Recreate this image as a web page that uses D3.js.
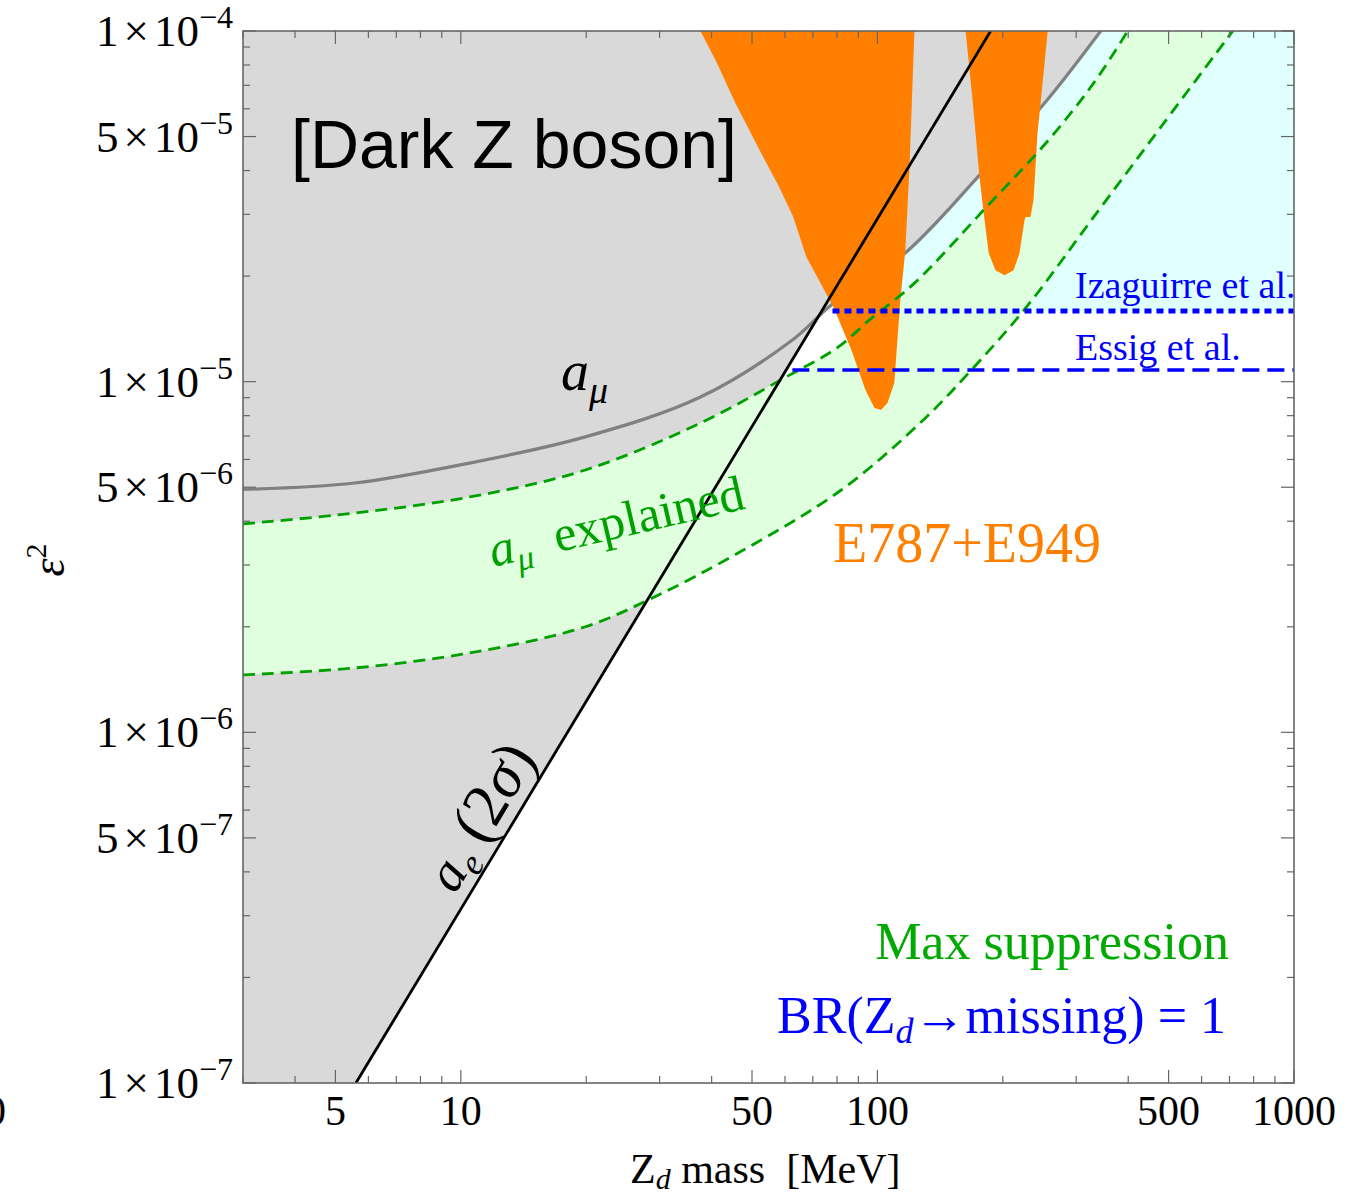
<!DOCTYPE html>
<html>
<head>
<meta charset="utf-8">
<script src="https://cdn.jsdelivr.net/npm/d3@7"></script>
<style>
  body { margin: 0; background: #fff; }
  svg { display: block; }
  text { font-family: "Liberation Serif", "Times New Roman", serif; }
</style>
</head>
<body>
<div id="chart"></div>
<script>
// values: mass in MeV, eps^2
const amuCurve = [[3, 4.93e-6], [5.56, 5.14e-6], [10.5, 5.86e-6], [19.9, 6.96e-6], [37.6, 9.04e-6],
  [62.5, 1.315e-5], [77.5, 1.655e-5], [116.7, 2.33e-5], [177.9, 3.94e-5], [252, 6.23e-5], [343.6, 1.0e-4]];
const bandUpper = [[3, 3.93e-6], [5.56, 4.22e-6], [10.5, 4.69e-6], [19.9, 5.6e-6], [37.6, 7.62e-6],
  [59.8, 1.025e-5], [80.6, 1.256e-5], [95.7, 1.5e-5], [122.7, 1.91e-5], [182.8, 3.15e-5],
  [257.6, 4.89e-5], [330.6, 7.11e-5], [399, 1.0e-4]];
const bandLower = [[3, 1.458e-6], [5.56, 1.526e-6], [10.5, 1.684e-6], [19.9, 2.0e-6], [29.1, 2.43e-6],
  [46.4, 3.25e-6], [81.9, 4.91e-6], [128.9, 7.78e-6], [169, 1.087e-5], [228, 1.633e-5],
  [330.6, 2.95e-5], [479, 5.32e-5], [713, 1.0e-4]];
const aeLine = [[5.6, 1.0e-7], [187, 1.0e-4]];
const e787Peak1 = [[37.6, 1.3e-4], [37.6, 1.0e-4], [41, 8.2e-5], [45.6, 6.23e-5], [52, 4.6e-5], [58.1, 3.59e-5],
  [62.8, 2.95e-5], [67.5, 2.27e-5], [78.4, 1.633e-5], [86.6, 1.231e-5], [93.6, 9.47e-6], [98.4, 8.41e-6],
  [102, 8.3e-6], [105.7, 8.69e-6], [109.8, 9.91e-6], [113.5, 1.71e-5], [116.7, 2.37e-5], [119.4, 4.09e-5],
  [122.7, 1.0e-4], [122.7, 1.3e-4]];
const e787Peak2 = [[162.8, 1.3e-4], [162.8, 1.0e-4], [169.2, 6.36e-5], [175.8, 3.83e-5], [179.9, 3.03e-5],
  [184.9, 2.33e-5], [192, 2.08e-5], [201.9, 2.01e-5], [212.3, 2.08e-5], [219.4, 2.33e-5], [225.5, 2.89e-5],
  [227, 2.95e-5], [233, 2.95e-5], [237, 3.3e-5], [242.3, 5.12e-5], [249.2, 7.11e-5], [256.3, 1.0e-4],
  [256.3, 1.3e-4]];
const izaguirre = { start: 78, level: 1.59e-5 };
const essig = { start: 62.5, level: 1.08e-5 };

const massDomain = [3, 1000];
const epsDomain = [1e-7, 1e-4];
const massLabels = [5, 10, 50, 100, 500, 1000];
const epsLabels = [[1, -4], [5, -5], [1, -5], [5, -6], [1, -6], [5, -7], [1, -7]];

const width = 1353, height = 1196;
const margin = { top: 31, right: 59, bottom: 113, left: 243 };
const pw = width - margin.left - margin.right,
  ph = height - margin.top - margin.bottom;

const svg = d3.select("#chart").append("svg")
  .attr("width", width).attr("height", height);

const g = svg.append("g")
  .attr("transform", "translate(" + margin.left + "," + margin.top + ")");

const x = d3.scaleLog().domain(massDomain).range([0, pw]);
const y = d3.scaleLog().domain(epsDomain).range([ph, 0]);

g.append("clipPath").attr("id", "plotclip")
  .append("rect").attr("width", pw).attr("height", ph);

const plot = g.append("g").attr("clip-path", "url(#plotclip)");

const smooth = d3.line().x(d => x(d[0])).y(d => y(d[1])).curve(d3.curveCatmullRom.alpha(0.5));
const straight = d3.line().x(d => x(d[0])).y(d => y(d[1]));

// light cyan above Izaguirre et al. limit
plot.append("rect")
  .attr("x", x(izaguirre.start)).attr("y", 0)
  .attr("width", pw - x(izaguirre.start)).attr("height", y(izaguirre.level))
  .attr("fill", "#e0ffff");

// gray excluded regions (a_mu and a_e)
plot.append("path")
  .attr("d", smooth(amuCurve) + "L" + x(massDomain[0]) + "," + y(epsDomain[1]) + "Z")
  .attr("fill", "#d9d9d9");
plot.append("path")
  .attr("d", straight([[massDomain[0], epsDomain[0]], aeLine[0], aeLine[1], [massDomain[0], epsDomain[1]]]) + "Z")
  .attr("fill", "#d9d9d9");

// a_mu explained band
const lowerRev = smooth(bandLower.slice().reverse());
plot.append("path")
  .attr("d", smooth(bandUpper) + "L" + lowerRev.slice(1) + "Z")
  .attr("fill", "#dfffdf");

// gray a_mu curve
plot.append("path").attr("d", smooth(amuCurve))
  .attr("fill", "none").attr("stroke", "#808080").attr("stroke-width", 3.2);

// E787+E949 regions
[e787Peak1, e787Peak2].forEach(p => {
  plot.append("path").attr("d", straight(p) + "Z").attr("fill", "#ff8000");
});

// band edges
[bandUpper, bandLower].forEach(b => {
  plot.append("path").attr("d", smooth(b))
    .attr("fill", "none").attr("stroke", "#00a000").attr("stroke-width", 2.8)
    .attr("stroke-dasharray", "12,7");
});

// a_e line
plot.append("path").attr("d", straight(aeLine))
  .attr("fill", "none").attr("stroke", "#000").attr("stroke-width", 2.8);

// Izaguirre / Essig limits
plot.append("line")
  .attr("x1", x(izaguirre.start)).attr("x2", pw)
  .attr("y1", y(izaguirre.level)).attr("y2", y(izaguirre.level))
  .attr("stroke", "#0000ff").attr("stroke-width", 5).attr("stroke-dasharray", "7,5");
plot.append("line")
  .attr("x1", x(essig.start)).attr("x2", pw)
  .attr("y1", y(essig.level)).attr("y2", y(essig.level))
  .attr("stroke", "#0000ff").attr("stroke-width", 3.4).attr("stroke-dasharray", "17,8");

// labels inside the plot
g.append("text").attr("x", 48).attr("y", 137)
  .style("font-family", "'Liberation Sans', Arial, sans-serif")
  .attr("font-size", 68).text("[Dark Z boson]");

const amuLab = g.append("text").attr("x", 318).attr("y", 359)
  .attr("font-size", 56).attr("font-style", "italic");
amuLab.append("tspan").text("a");
amuLab.append("tspan").attr("font-size", 38).attr("dy", 13).text("\u03bc");

const expl = g.append("text")
  .attr("transform", "translate(250,536) rotate(-13)")
  .attr("font-size", 50).attr("fill", "#00a000");
expl.append("tspan").attr("font-style", "italic").text("a");
expl.append("tspan").attr("font-style", "italic").attr("font-size", 34).attr("dy", 10).text("\u03bc");
expl.append("tspan").attr("dy", -10).attr("dx", 24).text("explained");

const aeLab = g.append("text")
  .attr("transform", "translate(212,864) rotate(-59)")
  .attr("font-size", 54);
aeLab.append("tspan").attr("font-style", "italic").text("a");
aeLab.append("tspan").attr("font-style", "italic").attr("font-size", 36).attr("dy", 10).text("e");
aeLab.append("tspan").attr("dy", -10).attr("dx", 14).attr("font-size", 62).text("(2");
aeLab.append("tspan").attr("font-style", "italic").attr("font-size", 62).text("\u03c3");
aeLab.append("tspan").attr("font-size", 62).text(")");

g.append("text").attr("x", 590).attr("y", 531)
  .attr("font-size", 56).attr("fill", "#ff8000").text("E787+E949");

g.append("text").attr("x", 832).attr("y", 267)
  .attr("font-size", 38).attr("fill", "#0000ff").text("Izaguirre et al.");
g.append("text").attr("x", 832).attr("y", 329)
  .attr("font-size", 38).attr("fill", "#0000ff").text("Essig et al.");

g.append("text").attr("x", 986).attr("y", 928).attr("text-anchor", "end")
  .attr("font-size", 52).attr("fill", "#00aa00").text("Max suppression");
const br = g.append("text").attr("x", 983).attr("y", 1002).attr("text-anchor", "end")
  .attr("font-size", 52).attr("fill", "#0000ff");
br.append("tspan").text("BR(Z");
br.append("tspan").attr("font-style", "italic").attr("font-size", 36).attr("dy", 10).text("d");
br.append("tspan").attr("dy", -10).text("\u2192missing) = 1");

// frame and ticks
g.append("rect").attr("width", pw).attr("height", ph)
  .attr("fill", "none").attr("stroke", "#666").attr("stroke-width", 1.6);

const tickG = g.append("g").attr("stroke", "#666").attr("stroke-width", 1.2);
x.ticks().forEach(v => {
  const len = massLabels.includes(Math.round(v)) ? 13 : 7;
  const px = x(v);
  tickG.append("line").attr("x1", px).attr("x2", px).attr("y1", ph).attr("y2", ph - len);
  tickG.append("line").attr("x1", px).attr("x2", px).attr("y1", 0).attr("y2", len);
});
y.ticks().forEach(v => {
  const lead = Math.round(v / Math.pow(10, Math.floor(Math.log10(v) + 1e-9)));
  const len = (lead === 1 || lead === 5) ? 13 : 7;
  const py = y(v);
  tickG.append("line").attr("y1", py).attr("y2", py).attr("x1", 0).attr("x2", len);
  tickG.append("line").attr("y1", py).attr("y2", py).attr("x1", pw).attr("x2", pw - len);
});

// tick labels
massLabels.forEach(v => {
  g.append("text").attr("x", x(v)).attr("y", ph + 42)
    .attr("text-anchor", "middle").attr("font-size", 42).text(v);
});
epsLabels.forEach(([m, p]) => {
  const t = g.append("text").attr("x", -10).attr("y", y(m * Math.pow(10, p)) + 15)
    .attr("text-anchor", "end").attr("font-size", 45);
  t.append("tspan").text(m);
  t.append("tspan").attr("dx", 5).text("\u00d7");
  t.append("tspan").attr("dx", 5).text("10");
  t.append("tspan").attr("dy", -18).attr("font-size", 32).text("\u2212" + Math.abs(p));
});

// stray clipped label at the far left
svg.append("text").attr("x", 6).attr("y", 1125).attr("text-anchor", "end")
  .attr("font-size", 42).text("0");

// axis titles
const xt = svg.append("text").attr("x", 630).attr("y", 1183).attr("font-size", 42);
xt.append("tspan").text("Z");
xt.append("tspan").attr("font-style", "italic").attr("font-size", 30).attr("dy", 6).text("d");
xt.append("tspan").attr("dy", -6).text("\u00a0mass\u00a0\u00a0[MeV]");

const yt = svg.append("text").attr("transform", "translate(64,560) rotate(-90)")
  .attr("text-anchor", "middle").attr("font-size", 46);
yt.append("tspan").attr("font-style", "italic").text("\u03b5");
yt.append("tspan").attr("dy", -18).attr("font-size", 30).text("2");
</script>
</body>
</html>
